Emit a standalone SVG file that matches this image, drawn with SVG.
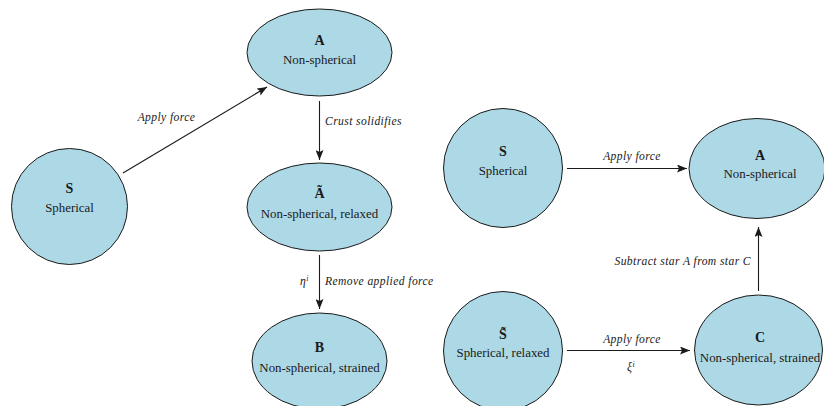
<svg xmlns="http://www.w3.org/2000/svg" width="824" height="406" viewBox="0 0 824 406">
<defs>
<marker id="ah" viewBox="0 0 10 8" refX="10" refY="4" markerWidth="10" markerHeight="8" markerUnits="userSpaceOnUse" orient="auto">
<path d="M0,0 L10,4 L0,8 L2,4 Z" fill="#1a1a1a"/>
</marker>
<style>
.node{fill:#ADD8E6;stroke:#1a1a1a;stroke-width:1}
text{font-family:'Liberation Serif','Times New Roman','DejaVu Serif',serif;fill:#1a1a1a}
.t{font-weight:bold;font-size:14px;text-anchor:middle}
.d{font-size:12.9px;text-anchor:middle}
.l{font-style:italic;font-size:11.6px;letter-spacing:0.4px}
.e{stroke:#1a1a1a;stroke-width:1.1;fill:none;marker-end:url(#ah)}
</style>
</defs>
<rect width="824" height="406" fill="#ffffff"/>
<g id="connectors">
<line class="e" x1="123" y1="173" x2="267" y2="87"/>
<line class="e" x1="319.5" y1="101" x2="319.5" y2="160"/>
<line class="e" x1="319.5" y1="255" x2="319.5" y2="309"/>
<line class="e" x1="567" y1="168.5" x2="687" y2="168.5"/>
<line class="e" x1="758.5" y1="291" x2="758.5" y2="227"/>
<line class="e" x1="567" y1="350.5" x2="690" y2="350.5"/>
<text class="l" x="166.5" y="121" text-anchor="middle">Apply force</text>
<text class="l" x="325" y="125">Crust solidifies</text>
<text class="l" x="325" y="285">Remove applied force</text>
<text class="l" x="300" y="285" letter-spacing="0">η<tspan font-size="8" dy="-4">i</tspan></text>
<text class="l" x="632" y="160" text-anchor="middle">Apply force</text>
<text class="l" x="751" y="265" text-anchor="end">Subtract star A from star C</text>
<text class="l" x="632" y="343" text-anchor="middle">Apply force</text>
<text class="l" x="627" y="371" letter-spacing="0">ξ<tspan font-size="8" dy="-4">i</tspan></text>
</g>
<g id="S1">
<circle class="node" cx="69.5" cy="206.5" r="58"/>
<text class="t" x="69.5" y="193">S</text>
<text class="d" x="69.5" y="212">Spherical</text>
</g>
<g id="A1">
<ellipse class="node" cx="319.5" cy="52.5" rx="72.5" ry="43.5"/>
<text class="t" x="319.5" y="45">A</text>
<text class="d" x="319.5" y="63.5">Non-spherical</text>
</g>
<g id="Atilde">
<ellipse class="node" cx="319.5" cy="207" rx="72.5" ry="44"/>
<text class="t" x="319.5" y="198">Ã</text>
<text class="d" x="319.5" y="218">Non-spherical, relaxed</text>
</g>
<g id="B">
<ellipse class="node" cx="319.5" cy="361" rx="67.5" ry="48"/>
<text class="t" x="319.5" y="352">B</text>
<text class="d" x="319.5" y="371.5">Non-spherical, strained</text>
</g>
<g id="S2">
<circle class="node" cx="503" cy="168" r="59.5"/>
<text class="t" x="503" y="156">S</text>
<text class="d" x="503" y="174.5">Spherical</text>
</g>
<g id="A2">
<ellipse class="node" cx="757" cy="168.5" rx="68" ry="50"/>
<text class="t" x="760" y="160">A</text>
<text class="d" x="760" y="178">Non-spherical</text>
</g>
<g id="Stilde">
<circle class="node" cx="503" cy="351" r="59.5"/>
<text class="t" x="503" y="339">S̃</text>
<text class="d" x="503" y="356.5">Spherical, relaxed</text>
</g>
<g id="C">
<ellipse class="node" cx="758.5" cy="350" rx="64" ry="55"/>
<text class="t" x="760" y="342">C</text>
<text class="d" x="760" y="361.5">Non-spherical, strained</text>
</g>
</svg>
